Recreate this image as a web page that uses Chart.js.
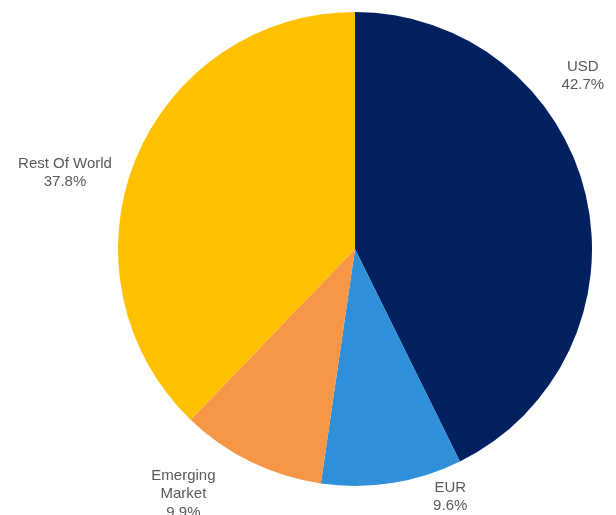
<!DOCTYPE html>
<html>
<head>
<meta charset="utf-8">
<script src="https://cdn.jsdelivr.net/npm/chart.js@4"></script>
<style>
  html, body { margin: 0; padding: 0; background: #fff; overflow: hidden; }
  canvas { display: block; }
</style>
</head>
<body>
<canvas id="chartPie" width="616" height="515"></canvas>
<script>
// Datos del gráfico
const categories = ["USD", "EUR", "Emerging\nMarket", "Rest Of World"];
const shares     = [42.7, 9.6, 9.9, 37.8];
const colors     = ["#002060", "#2F8FD8", "#F79646", "#FFC000"];

// Posición de las etiquetas: ángulo (grados desde arriba) y factor de radio
const labelPlace = [
  { angle: 52.8,  dist: 1.207 },
  { angle: 159.0, dist: 1.121 },
  { angle: 215.0, dist: 1.262 },
  { angle: 284.7, dist: 1.265 }
];

// ---------- Plugin de etiquetas externas ----------
const outsideLabels = {
  id: "outsideLabels",
  afterDatasetsDraw(chart) {
    const { ctx } = chart;
    const meta = chart.getDatasetMeta(0);
    ctx.save();
    ctx.font = "15px 'Liberation Sans', Arial, sans-serif";
    ctx.fillStyle = "#595959";
    ctx.textAlign = "center";
    ctx.textBaseline = "middle";
    const lineH = 18.5;
    meta.data.forEach((arc, i) => {
      const p = labelPlace[i];
      const a = p.angle * Math.PI / 180;
      const r = arc.outerRadius * p.dist;
      const cx = arc.x + r * Math.sin(a);
      const cy = arc.y - r * Math.cos(a);
      const lines = categories[i].split("\n").concat([shares[i].toFixed(1) + "%"]);
      const top = cy - (lines.length - 1) * lineH / 2;
      lines.forEach((t, k) => ctx.fillText(t, cx, top + k * lineH));
    });
    ctx.restore();
  }
};

function start() {
  new Chart(document.getElementById("chartPie"), {
    type: "pie",
    data: {
      labels: categories,
      datasets: [{ data: shares, backgroundColor: colors, borderWidth: 0 }]
    },
    options: {
      responsive: false,
      animation: false,
      devicePixelRatio: 1,
      layout: { padding: { left: 118, right: 24, top: 12, bottom: 29 } },
      plugins: { legend: { display: false }, tooltip: { enabled: false } }
    },
    plugins: [outsideLabels]
  });
}

document.addEventListener("DOMContentLoaded", start);
</script>
</body>
</html>
